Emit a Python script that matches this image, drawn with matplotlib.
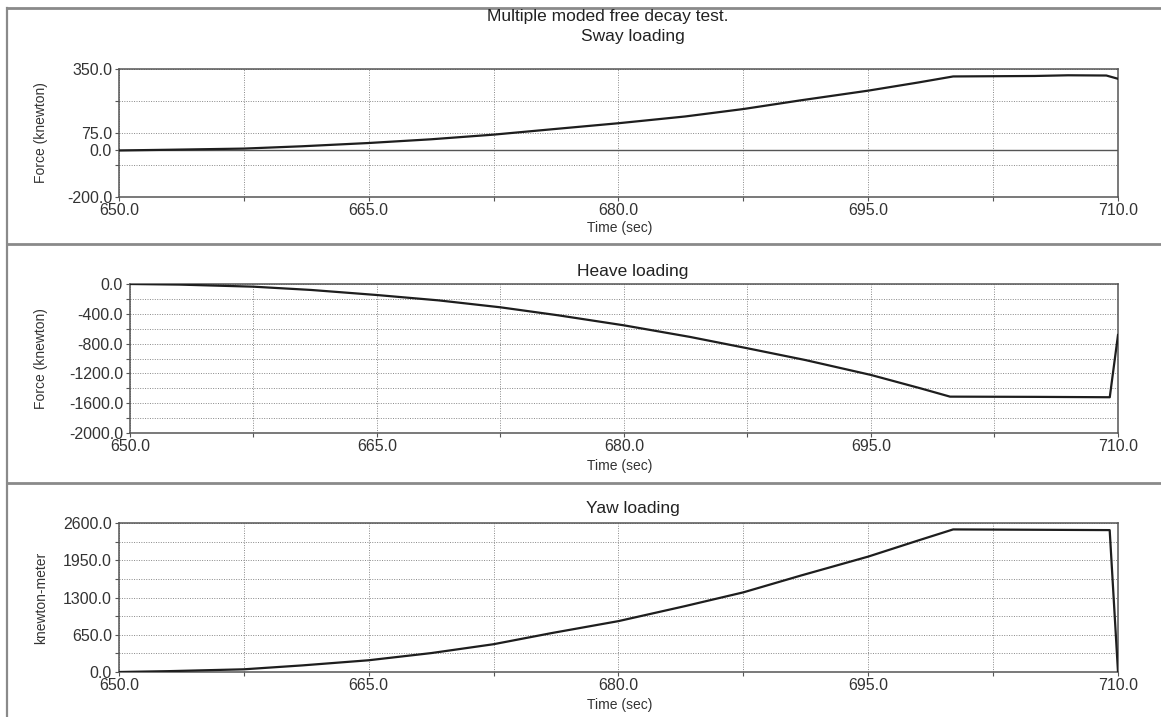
import matplotlib
matplotlib.use('Agg')
import matplotlib.pyplot as plt
from matplotlib.lines import Line2D
import numpy as np

plt.rcParams['font.family'] = ['Liberation Sans', 'DejaVu Sans']

# ---------------- data ----------------
time_sway = [650, 653, 657.5, 661, 665, 668.75, 672.5, 676, 680, 684, 687.5,
             691, 695, 698, 700.1, 705, 707, 709.3, 710]
sway_force = [0, 3, 8, 18, 32, 48, 68, 91, 117, 146, 178,
              216, 257, 292, 318, 320, 323, 322, 308]

time_heave = [650, 653, 657.5, 661, 665, 668.75, 672.5, 676, 680, 684, 687.5,
              691, 695, 698, 699.8, 705, 709.5, 710]
heave_force = [0, -8, -36, -80, -148, -220, -313, -420, -555, -710, -863,
               -1020, -1221, -1400, -1512, -1515, -1520, -684]

time_yaw = [650, 653, 657.5, 661, 665, 668.75, 672.5, 676, 680, 684, 687.5,
            691, 695, 698, 700.1, 705, 709.5, 710]
yaw_moment = [0, 15, 47, 115, 205, 330, 485, 680, 888, 1150, 1390,
              1687, 2014, 2295, 2488, 2482, 2476, 0]

x_ticks = [650, 657.5, 665, 672.5, 680, 687.5, 695, 702.5, 710]
x_ticklabels = ['650.0', '', '665.0', '', '680.0', '', '695.0', '', '710.0']

sway_ticks = [-200, -62.5, 0, 75, 212.5, 350]
sway_ticklabels = ['-200.0', '', '0.0', '75.0', '', '350.0']
heave_ticks = [-2000, -1800, -1600, -1400, -1200, -1000, -800, -600, -400, -200, 0]
heave_ticklabels = ['-2000.0', '', '-1600.0', '', '-1200.0', '', '-800.0', '', '-400.0', '', '0.0']
yaw_ticks = [0, 325, 650, 975, 1300, 1625, 1950, 2275, 2600]
yaw_ticklabels = ['0.0', '', '650.0', '', '1300.0', '', '1950.0', '', '2600.0']

main_title = 'Multiple moded free decay test.'
panel_titles = ['Sway loading', 'Heave loading', 'Yaw loading']
y_labels = ['Force (knewton)', 'Force (knewton)', 'knewton-meter']
x_label = 'Time (sec)'

# ---------------- layout ----------------
W, H = 1161, 717
fig = plt.figure(figsize=(W / 100, H / 100), dpi=100)
fig.patch.set_facecolor('white')


def rect(l, t, r, b):
    return [l / W, 1 - b / H, (r - l) / W, (b - t) / H]


def fx(x):
    return x / W


def fy(y):
    return 1 - y / H


panels = [
    dict(box=(119, 69, 1118, 197), t=time_sway, v=sway_force, ylim=(-200, 350),
         yt=sway_ticks, ytl=sway_ticklabels, zero=True, title_y=36, xl_y=228),
    dict(box=(130, 284, 1118, 433), t=time_heave, v=heave_force, ylim=(-2000, 0),
         yt=heave_ticks, ytl=heave_ticklabels, zero=False, title_y=271, xl_y=466),
    dict(box=(119, 523, 1118, 672), t=time_yaw, v=yaw_moment, ylim=(0, 2600),
         yt=yaw_ticks, ytl=yaw_ticklabels, zero=False, title_y=509, xl_y=705),
]

text_color = '#333333'
for i, p in enumerate(panels):
    l, t, r, b = p['box']
    ax = fig.add_axes(rect(l, t, r, b))
    ax.plot(p['t'], p['v'], color='#1e1e1e', lw=1.6, zorder=3)
    ax.set_xlim(650, 710)
    ax.set_ylim(*p['ylim'])
    ax.set_xticks(x_ticks)
    ax.set_xticklabels(x_ticklabels)
    ax.set_yticks(p['yt'])
    ax.set_yticklabels(p['ytl'])
    ax.tick_params(axis='both', direction='out', length=3, width=0.8,
                   colors='#555555', labelcolor=text_color, labelsize=11.5)
    ax.tick_params(axis='x', pad=1)
    ax.tick_params(axis='y', pad=2)
    ax.grid(True, color='#888888', linestyle=(0, (1, 1.5)), linewidth=0.7)
    if p['zero']:
        ax.axhline(0, color='#555555', lw=1.0, zorder=2)
    for s in ax.spines.values():
        s.set_color('#555555')
        s.set_linewidth(1.1)
    fig.text(fx(633), fy(p['title_y']), panel_titles[i], ha='center', va='center',
             fontsize=12.5, color='#222222')
    fig.text(fx(620), fy(p['xl_y']), x_label, ha='center', va='center',
             fontsize=10, color=text_color)
    fig.text(fx(41), fy((t + b) / 2), y_labels[i], ha='center', va='center',
             rotation=90, fontsize=10, color=text_color)

fig.text(fx(608), fy(17), main_title, ha='center', va='center',
         fontsize=12.5, color='#222222')

# panel frames
frame_color = '#8a8a8a'
for y in (8, 244, 483):
    fig.add_artist(Line2D([fx(7), 1], [fy(y), fy(y)], transform=fig.transFigure,
                          color=frame_color, lw=2.0))
fig.add_artist(Line2D([fx(7), fx(7)], [fy(8), 0], transform=fig.transFigure,
                      color=frame_color, lw=1.6))

fig.savefig('out.png', dpi=100)
